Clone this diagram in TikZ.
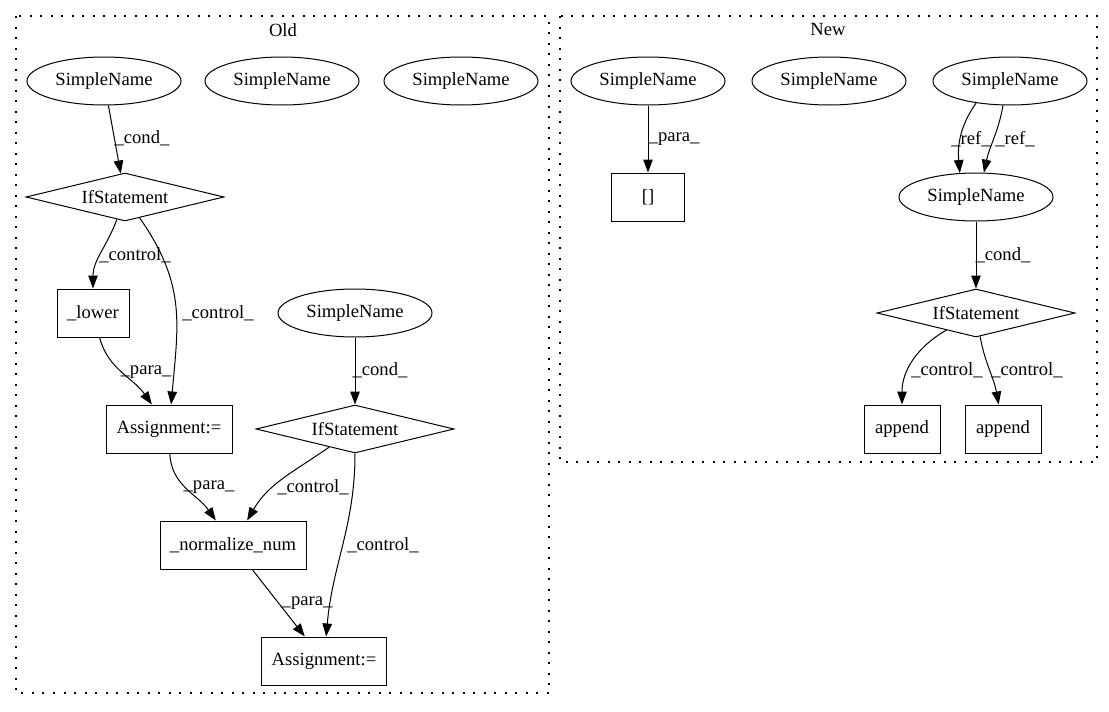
\documentclass[tikz,border=0pt]{standalone}
\usepackage{fontspec}
\setmainfont{Liberation Serif}
\usetikzlibrary{shapes.geometric,arrows.meta}

\tikzset{
    sname/.style={draw, ellipse, line width=1pt, minimum width=154pt, minimum height=48pt, inner sep=0pt},
    ifstmt/.style={draw, diamond, aspect=4, line width=1pt, minimum width=198pt, minimum height=48pt, inner sep=0pt},
    opbox/.style={draw, rectangle, line width=1pt, minimum height=48pt, inner sep=0pt},
    lbl/.style={inner sep=0pt},
    cluster/.style={line width=1.3pt, dash pattern=on 2pt off 8.5pt},
    edge/.style={-{Triangle[length=13pt,width=9.5pt]}, line width=1pt},
}

\begin{document}
\begin{tikzpicture}[x=1pt, y=1pt, font=\fontsize{18.6}{22}\selectfont]
    \useasboundingbox (0,0) rectangle (1109,-712);

    % Old cluster
    \draw [cluster] (16,-16) rectangle (549,-693);
    \node [lbl] (old) at (283,-30) {Old};
    \node [sname] (sn1) at (104,-81) {SimpleName};
    \node [sname] (sn2) at (282,-81) {SimpleName};
    \node [sname] (sn3) at (461,-81) {SimpleName};
    \node [ifstmt] (if1) at (125,-197) {IfStatement};
    \node [opbox, minimum width=72pt] (lower) at (93,-313) {\_lower};
    \node [sname] (sn4) at (355,-313) {SimpleName};
    \node [opbox, minimum width=126pt] (assign1) at (169,-429) {Assignment:=};
    \node [ifstmt] (if2) at (355,-429) {IfStatement};
    \node [opbox, minimum width=146pt] (norm) at (233,-545) {\_normalize\_num};
    \node [opbox, minimum width=125pt] (assign2) at (324,-661) {Assignment:=};

    \draw [edge] (sn1) -- (if1);
    \draw [edge] (if1) to[out=-110, in=90] (lower);
    \draw [edge] (if1) to[out=-55, in=85, looseness=1.1] (assign1);
    \draw [edge] (lower) to[out=-75, in=125] (assign1);
    \draw [edge] (sn4) -- (if2);
    \draw [edge] (assign1) to[out=-88, in=125] (norm);
    \draw [edge] (if2) to[out=-145, in=60] (norm);
    \draw [edge] (if2) to[out=-90, in=85] (assign2);
    \draw [edge] (norm) -- (assign2);

    \node [lbl] (cond1) at (142,-138) {\_cond\_};
    \node [lbl] (ctl1) at (135,-255) {\_control\_};
    \node [lbl] (ctl2) at (218,-313) {\_control\_};
    \node [lbl] (para1) at (146,-372) {\_para\_};
    \node [lbl] (cond2) at (380,-370) {\_cond\_};
    \node [lbl] (para2) at (209,-487) {\_para\_};
    \node [lbl] (ctl3) at (313,-487) {\_control\_};
    \node [lbl] (ctl4) at (383,-545) {\_control\_};
    \node [lbl] (para3) at (307,-603) {\_para\_};

    % New cluster
    \draw [cluster] (560,-16) rectangle (1097,-462);
    \node [lbl] (new) at (828,-30) {New};
    \node [sname] (nsn1) at (648,-81) {SimpleName};
    \node [sname] (nsn2) at (829,-81) {SimpleName};
    \node [sname] (nsn3) at (1010,-81) {SimpleName};
    \node [opbox, minimum width=73pt] (brk) at (648,-197) {[]};
    \node [sname] (nsn4) at (976,-197) {SimpleName};
    \node [ifstmt] (nif) at (976,-313) {IfStatement};
    \node [opbox, minimum width=76pt] (app1) at (902,-429) {append};
    \node [opbox, minimum width=76pt] (app2) at (1003,-429) {append};

    \draw [edge] (nsn1) -- (brk);
    \draw [edge] (nsn3.213) to[out=-125, in=95] (nsn4.124);
    \draw [edge] (nsn3.254) to[out=-100, in=78] (nsn4.72);
    \draw [edge] (nsn4) -- (nif);
    \draw [edge] (nif) to[out=-150, in=90] (app1);
    \draw [edge] (nif) to[out=-80, in=100] (app2);

    \node [lbl] (para4) at (674,-139) {\_para\_};
    \node [lbl] (ref1) at (971,-139) {\_ref\_};
    \node [lbl] (ref2) at (1015,-139) {\_ref\_};
    \node [lbl] (cond3) at (1003,-255) {\_cond\_};
    \node [lbl] (ctl5) at (947,-370) {\_control\_};
    \node [lbl] (ctl6) at (1027,-370) {\_control\_};
\end{tikzpicture}
\end{document}
